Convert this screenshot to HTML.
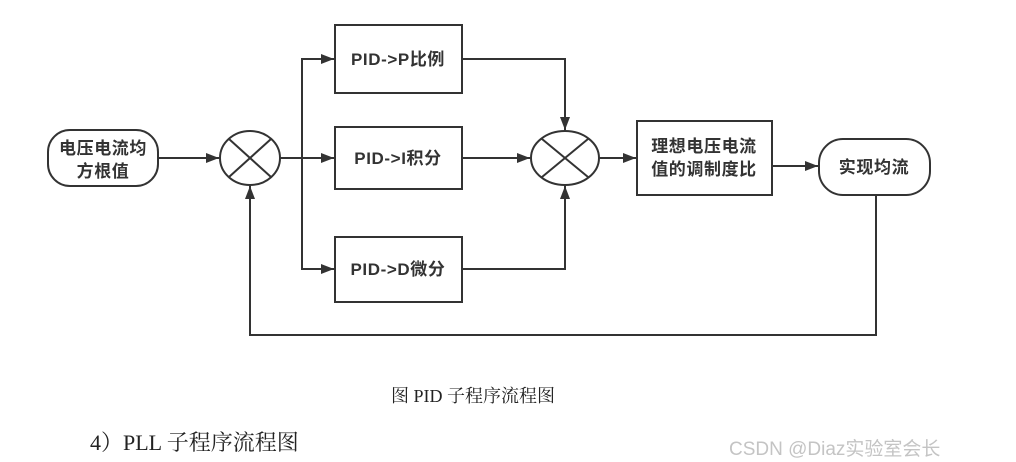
<!DOCTYPE html>
<html><head><meta charset="utf-8"><style>
body{margin:0;background:#fff;width:1016px;height:462px;overflow:hidden;position:relative}
svg{position:absolute;left:0;top:0}
text{font-family:"Liberation Sans","Noto Sans CJK SC",sans-serif;font-weight:bold;fill:#333;font-size:17px;letter-spacing:0.6px}
.cap{position:absolute;font-family:"Liberation Serif","Noto Serif CJK SC",serif;color:#222;white-space:nowrap}
</style></head><body>
<svg width="1016" height="462" viewBox="0 0 1016 462">
<defs><marker id="a" markerWidth="13" markerHeight="10" refX="13" refY="5" orient="auto" markerUnits="userSpaceOnUse"><path d="M0,0 L13,5 L0,10 z" fill="#333"/></marker></defs>
<g stroke="#333" stroke-width="2" fill="none">
<rect x="48" y="130" width="110" height="56" rx="22"/>
<ellipse cx="250" cy="158" rx="30" ry="27"/>
<line x1="229" y1="139" x2="271" y2="177"/><line x1="271" y1="139" x2="229" y2="177"/>
<ellipse cx="565" cy="158" rx="34" ry="27"/>
<line x1="542" y1="139" x2="588" y2="177"/><line x1="588" y1="139" x2="542" y2="177"/>
<rect x="335" y="25" width="127" height="68"/>
<rect x="335" y="127" width="127" height="62"/>
<rect x="335" y="237" width="127" height="65"/>
<rect x="637" y="121" width="135" height="74"/>
<rect x="819" y="139" width="111" height="56" rx="24"/>
<line x1="158" y1="158" x2="219" y2="158" marker-end="url(#a)"/>
<line x1="280" y1="158" x2="334" y2="158" marker-end="url(#a)"/>
<polyline points="302,158 302,59 334,59" marker-end="url(#a)"/>
<polyline points="302,158 302,269 334,269" marker-end="url(#a)"/>
<line x1="462" y1="158" x2="530" y2="158" marker-end="url(#a)"/>
<polyline points="462,59 565,59 565,130" marker-end="url(#a)"/>
<polyline points="462,269 565,269 565,186" marker-end="url(#a)"/>
<line x1="599" y1="158" x2="636" y2="158" marker-end="url(#a)"/>
<line x1="772" y1="166" x2="818" y2="166" marker-end="url(#a)"/>
<polyline points="876,195 876,335 250,335 250,186" marker-end="url(#a)"/>
</g>
<text x="103" y="154" text-anchor="middle">电压电流均</text>
<text x="103" y="177" text-anchor="middle">方根值</text>
<text x="398" y="65" text-anchor="middle">PID-&gt;P比例</text>
<text x="398" y="164" text-anchor="middle">PID-&gt;I积分</text>
<text x="398" y="275" text-anchor="middle">PID-&gt;D微分</text>
<text x="704" y="152" text-anchor="middle">理想电压电流</text>
<text x="704" y="175" text-anchor="middle">值的调制度比</text>
<text x="874" y="173" text-anchor="middle">实现均流</text>
</svg>
<div class="cap" style="left:391px;top:382px;font-size:18px">图 PID 子程序流程图</div>
<div class="cap" style="left:90px;top:426px;font-size:22px">4）PLL 子程序流程图</div>
<div style="position:absolute;left:729px;top:434px;font-family:'Liberation Sans','Noto Sans CJK SC',sans-serif;font-size:19px;color:#c4c4c4;white-space:nowrap">CSDN @Diaz实验室会长</div>
</body></html>
